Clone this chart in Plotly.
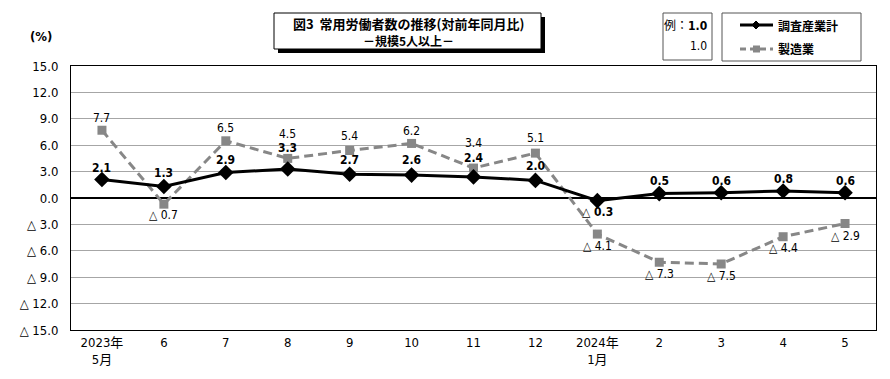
import plotly.graph_objects as go

categories = ["2023年<br>5月", "6", "7", "8", "9", "10", "11", "12",
              "2024年<br>1月", "2", "3", "4", "5"]
total_vals = [2.1, 1.3, 2.9, 3.3, 2.7, 2.6, 2.4, 2.0, -0.3, 0.5, 0.6, 0.8, 0.6]
mfg_vals = [7.7, -0.7, 6.5, 4.5, 5.4, 6.2, 3.4, 5.1, -4.1, -7.3, -7.5, -4.4, -2.9]
ytick_vals = [15, 12, 9, 6, 3, 0, -3, -6, -9, -12, -15]
series_names = ["調査産業計", "製造業"]
title_lines = ["図3  常用労働者数の推移(対前年同月比)", "－規模5人以上－"]

# label vertical offsets (px), style only
total_shift = [12, 14, 12, 21, 14, 15, 19, 14, -11, 13, 12, 12, 12]
mfg_shift = [12, -11, 13, 24, 14, 12, 25, 15, -12, -12, -12, -11, -12]

W, H = 890, 379
L, R, T, B = 71, 876, 66, 330
FONT = "Liberation Sans Narrow, DejaVu Sans Condensed, Noto Sans CJK JP, sans-serif"
CJK = "Noto Sans CJK JP, sans-serif"


def px(x):
    return (x - L) / (R - L)


def py(y):
    return (B - y) / (B - T)


def fmt(v):
    return f"{v:.1f}" if v >= 0 else f"△ {abs(v):.1f}"


fig = go.Figure()
fig.add_trace(go.Scatter(
    x=categories, y=mfg_vals, mode="lines+markers", name=series_names[1],
    line=dict(color="#878787", width=3, dash="9px,5px"),
    marker=dict(symbol="square", size=9, color="#878787"),
    showlegend=False))
fig.add_trace(go.Scatter(
    x=categories, y=total_vals, mode="lines+markers", name=series_names[0],
    line=dict(color="#000000", width=3),
    marker=dict(symbol="diamond", size=12, color="#000000"),
    showlegend=False))

annotations = []
for i, (v, s) in enumerate(zip(total_vals, total_shift)):
    annotations.append(dict(x=i, y=v, xref="x", yref="y", text=f"<b>{fmt(v)}</b>",
                            showarrow=False, yshift=s, xanchor="center", yanchor="middle",
                            font=dict(family=FONT, size=12, color="#000")))
for i, (v, s) in enumerate(zip(mfg_vals, mfg_shift)):
    annotations.append(dict(x=i, y=v, xref="x", yref="y", text=fmt(v),
                            showarrow=False, yshift=s, xanchor="center", yanchor="middle",
                            font=dict(family=FONT, size=12, color="#000")))


def pann(x, y, text, xanchor="center", size=13, family=FONT):
    annotations.append(dict(x=px(x), y=py(y), xref="paper", yref="paper", text=text,
                            showarrow=False, xanchor=xanchor, yanchor="middle",
                            font=dict(family=family, size=size, color="#000")))


pann(41, 36, "<b>(%)</b>")
pann(408, 23, f"<b>{title_lines[0]}</b>", family=CJK, size=13)
pann(408, 41, f"<b>{title_lines[1]}</b>", family=CJK, size=12)
pann(709, 26, "例：<b>1.0</b>", xanchor="right", size=12)
pann(709, 46, "1.0", xanchor="right", size=12)
pann(776, 25, f"<b>{series_names[0]}</b>", xanchor="left", size=12, family=CJK)
pann(776, 49, f"<b>{series_names[1]}</b>", xanchor="left", size=12, family=CJK)

shapes = []
# title box with shadow
shapes.append(dict(type="rect", xref="paper", yref="paper", x0=px(278), x1=px(545),
                   y0=py(17), y1=py(53), fillcolor="#000", line=dict(width=0)))
shapes.append(dict(type="rect", xref="paper", yref="paper", x0=px(274), x1=px(541),
                   y0=py(13), y1=py(49), fillcolor="#fff", line=dict(color="#000", width=1)))
# example box
shapes.append(dict(type="rect", xref="paper", yref="paper", x0=px(663), x1=px(712),
                   y0=py(13), y1=py(60), fillcolor="#fff", line=dict(color="#555", width=1)))
# legend box
shapes.append(dict(type="rect", xref="paper", yref="paper", x0=px(722), x1=px(861),
                   y0=py(13), y1=py(61), fillcolor="#fff", line=dict(color="#555", width=1)))
# legend line samples
shapes.append(dict(type="line", xref="paper", yref="paper", x0=px(740), x1=px(773),
                   y0=py(25), y1=py(25), line=dict(color="#000", width=3)))


def diamond(cx, cy, r):
    return (f"M {px(cx)} {py(cy - r)} L {px(cx + r)} {py(cy)} "
            f"L {px(cx)} {py(cy + r)} L {px(cx - r)} {py(cy)} Z")


shapes.append(dict(type="path", xref="paper", yref="paper", path=diamond(756, 25, 4),
                   fillcolor="#000", line=dict(color="#000", width=1)))
shapes.append(dict(type="line", xref="paper", yref="paper", x0=px(740), x1=px(773),
                   y0=py(49), y1=py(49), line=dict(color="#878787", width=3, dash="6px,4px")))
shapes.append(dict(type="rect", xref="paper", yref="paper", x0=px(753), x1=px(760),
                   y0=py(45.5), y1=py(52.5), fillcolor="#878787", line=dict(width=0)))

fig.update_layout(
    width=W, height=H,
    margin=dict(l=L, r=W - R, t=T, b=H - B),
    paper_bgcolor="#fff", plot_bgcolor="#fff",
    showlegend=False,
    annotations=annotations,
    shapes=shapes,
    font=dict(family=FONT, size=13, color="#000"),
)
fig.update_xaxes(
    type="category", range=[-0.5, len(categories) - 0.5],
    showgrid=False, showline=True, linecolor="#000", linewidth=1, mirror=True,
    ticks="", tickfont=dict(family=FONT, size=13, color="#000"),
    zeroline=False,
)
fig.update_yaxes(
    range=[-15, 15], tickvals=ytick_vals, ticktext=[fmt(v) for v in ytick_vals],
    showgrid=True, gridcolor="#a6a6a6", gridwidth=1,
    zeroline=True, zerolinecolor="#000", zerolinewidth=2,
    showline=True, linecolor="#000", linewidth=1, mirror=True,
    ticks="", ticklabelstandoff=9,
    tickfont=dict(family=FONT, size=13, color="#000"),
)

fig.write_html("out.html", config={"displayModeBar": False},
               post_script="document.body.style.margin='0';")
